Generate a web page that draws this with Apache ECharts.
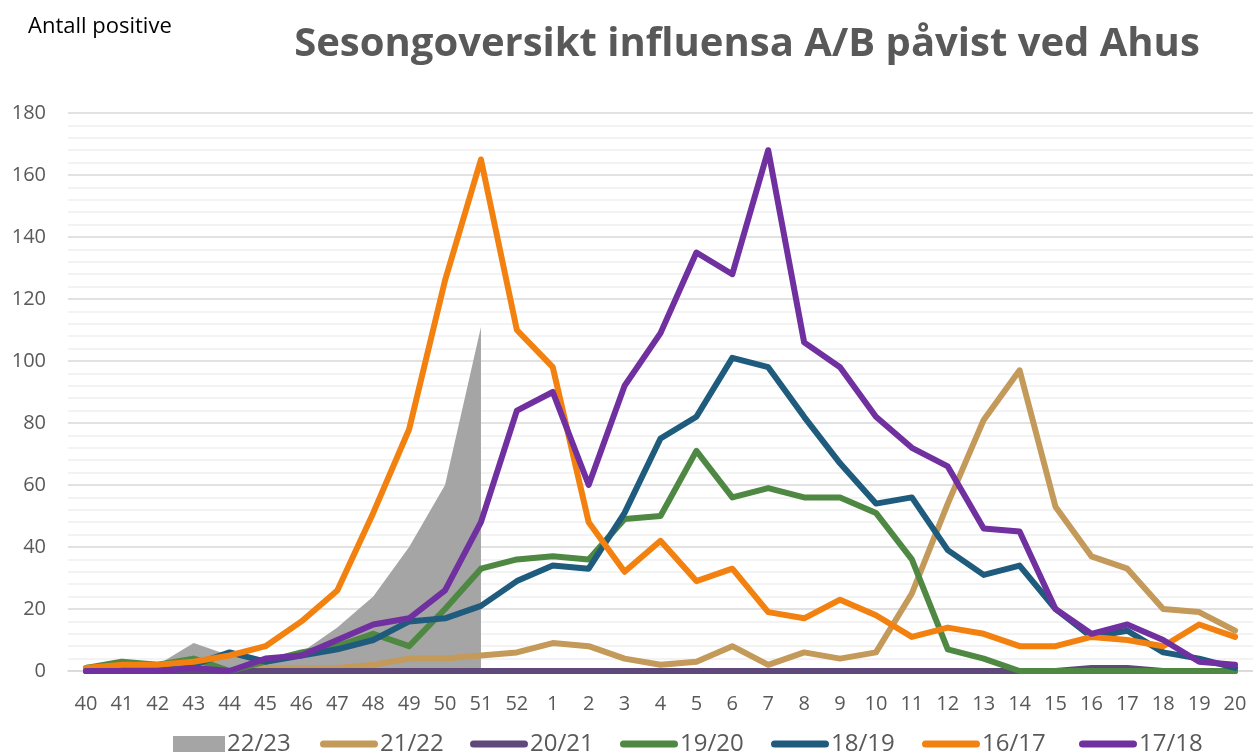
<!DOCTYPE html>
<html>
<head>
<meta charset="utf-8">
<script src="https://cdn.jsdelivr.net/npm/echarts@6/dist/echarts.min.js"></script>
<style>
html,body{margin:0;padding:0;background:#fff;}
#c{width:1253px;height:756px;}
</style>
</head>
<body>
<div id="c"></div>
<script>
const weeks = ['40','41','42','43','44','45','46','47','48','49','50','51','52','1','2','3','4','5','6','7','8','9','10','11','12','13','14','15','16','17','18','19','20'];
const yTicks = [0,20,40,60,80,100,120,140,160,180];
const s2223 = [2,2,2,9,5,4,6,14,24,40,60,111,null,null,null,null,null,null,null,null,null,null,null,null,null,null,null,null,null,null,null,null,null];
const s2122 = [0,0,0,0,0,1,1,1,2,4,4,5,6,9,8,4,2,3,8,2,6,4,6,25,54,81,97,53,37,33,20,19,13];
const s2021 = [0,0,0,0,0,0,0,0,0,0,0,0,0,0,0,0,0,0,0,0,0,0,0,0,0,0,0,0,1,1,0,0,0];
const s1920 = [1,3,2,4,0,3,6,8,12,8,20,33,36,37,36,49,50,71,56,59,56,56,51,36,7,4,0,0,0,0,0,0,0];
const s1819 = [0,1,1,2,6,3,5,7,10,16,17,21,29,34,33,51,75,82,101,98,82,67,54,56,39,31,34,20,11,13,6,4,1];
const s1617 = [1,2,2,3,5,8,16,26,51,78,126,165,110,98,48,32,42,29,33,19,17,23,18,11,14,12,8,8,11,10,8,15,11];
const s1718 = [0,0,0,1,0,4,5,10,15,17,26,48,84,90,60,92,109,135,128,168,106,98,82,72,66,46,45,20,12,15,10,3,2];

const names = ['22/23','21/22','20/21','19/20','18/19','16/17','17/18'];
const colors = ['#A5A5A5','#C49A5B','#5F497A','#4E8842','#1E5B7D','#F38110','#7030A0'];
const datas = [s2223,s2122,s2021,s1920,s1819,s1617,s1718];
const legendLeft = [173,320,470,620,771,922,1079];

const chart = echarts.init(document.getElementById('c'), null, {renderer:'canvas'});
const series = datas.map((d,i)=>{
  if(i===0){
    return {name:names[i],type:'line',data:d,symbol:'none',showSymbol:false,
      lineStyle:{width:0,color:colors[i]},itemStyle:{color:colors[i]},
      areaStyle:{color:colors[i],opacity:1},z:1};
  }
  return {name:names[i],type:'line',data:d,symbol:'none',showSymbol:false,
    lineStyle:{width:6,color:colors[i],cap:'round',join:'round'},itemStyle:{color:colors[i]},z:2+i};
});
const pillPath = 'path://M3.5,0 H54.5 A3.5,3.5 0 0 1 54.5,7 H3.5 A3.5,3.5 0 0 1 3.5,0 Z';
const legends = names.map((n,i)=>({
  left:legendLeft[i], top:732, padding:0, orient:'horizontal',
  data:[{name:n, icon: i===0 ? 'rect' : pillPath, itemStyle:{color:colors[i]}}],
  itemWidth: i===0 ? 52 : 58, itemHeight: i===0 ? 16 : 7,
  textStyle:{color:'#595959',fontFamily:'Open Sans',fontSize:24,padding:[0,0,0,-3]}
}));
chart.setOption({
  animation:false,
  backgroundColor:'#fff',
  title:[
    {text:'Sesongoversikt influensa A/B påvist ved Ahus',left:742,top:20,textAlign:'center',
     textStyle:{fontFamily:'Open Sans',fontWeight:'bold',fontSize:40,color:'#595959'}},
    {text:'Antall positive',left:23,top:11,
     textStyle:{fontFamily:'Open Sans',fontWeight:'normal',fontSize:22,color:'#000'}}
  ],
  grid:{left:68,top:113,width:1188,height:558,containLabel:false},
  xAxis:{type:'category',data:weeks,boundaryGap:true,
    axisLine:{show:true,lineStyle:{color:'#D9D9D9',width:1.5}},
    axisTick:{show:false},
    axisLabel:{color:'#595959',fontFamily:'Open Sans',fontSize:20,margin:23,interval:0}},
  yAxis:{type:'value',min:0,max:180,interval:20,
    axisLine:{show:false},axisTick:{show:false},
    axisLabel:{color:'#595959',fontFamily:'Open Sans',fontSize:20,margin:22},
    splitLine:{show:true,lineStyle:{color:'#D9D9D9',width:1.5}},
    minorTick:{show:false,splitNumber:5},
    minorSplitLine:{show:true,lineStyle:{color:'#F0F0F0',width:1.5}}},
  legend:legends,
  series:series
});
</script>
</body>
</html>
